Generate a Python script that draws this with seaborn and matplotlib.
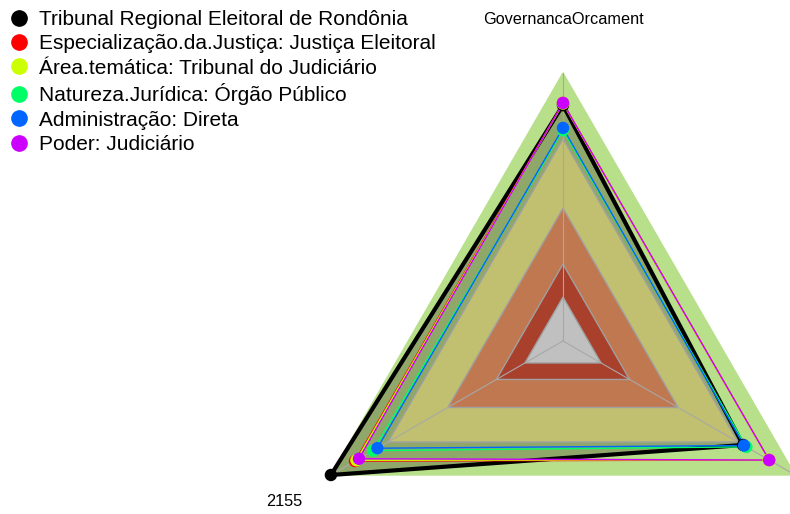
import numpy as np
import pandas as pd
import matplotlib
matplotlib.use("Agg")
import matplotlib.pyplot as plt
import seaborn as sns
from matplotlib.lines import Line2D

# axes of the radar (the third label falls outside the picture)
categories = ["GovernancaOrcament", "2155", "GestaoPessoas"]

series_names = [
    "Tribunal Regional Eleitoral de Rondônia",
    "Especialização.da.Justiça: Justiça Eleitoral",
    "Área.temática: Tribunal do Judiciário",
    "Natureza.Jurídica: Órgão Público",
    "Administração: Direta",
    "Poder: Judiciário",
]
tribunal = [0.88, 1.00, 0.776]
justica_eleitoral = [0.888, 0.896, 0.888]
area_tematica = [0.886, 0.89, 0.886]
natureza = [0.787, 0.818, 0.79]
administracao = [0.795, 0.80, 0.78]
poder = [0.888, 0.879, 0.888]

# background bands (fraction of the max radius)
band_levels = [1.0, 0.754, 0.496, 0.287, 0.164]
band_colors = ["#b8df8a", "#c0c070", "#c07850", "#a8402c", "#c0c0c0"]

colors = ["#000000", "#FF0000", "#CCFF00", "#00FF66", "#0066FF", "#CC00FF"]

sns.set_style("white")
plt.rcParams["font.family"] = ["Liberation Sans", "DejaVu Sans"]
plt.rcParams["text.color"] = "black"

angles = np.array([0, 240, 120]) * np.pi / 180  # top, bottom-left, bottom-right


def to_xy(vals):
    vals = np.asarray(vals)
    return vals * np.sin(angles), vals * np.cos(angles)


fig = plt.figure(figsize=(7.9, 5.14), dpi=100)
ax = fig.add_axes([0, 0, 1, 1])
cx, cy, rad = 563, 341, 268
xlim = (-cx / rad, (790 - cx) / rad)
ylim = (-(514 - cy) / rad, cy / rad)

# outer band, then the filled tribunal polygon, then inner bands
x, y = to_xy([band_levels[0]] * 3)
ax.fill(x, y, color=band_colors[0], zorder=1)
x, y = to_xy(tribunal)
ax.fill(x, y, color="#8fa86a", zorder=2)
for lev, col in zip(band_levels[1:], band_colors[1:]):
    x, y = to_xy([lev] * 3)
    ax.fill(x, y, facecolor=col, edgecolor="#a0a0a0", lw=1, zorder=3)

# spokes
for a in angles:
    ax.plot([0, np.sin(a)], [0, np.cos(a)], color="#a8a8a8", lw=0.8, zorder=4)

# series
all_vals = [tribunal, justica_eleitoral, area_tematica, natureza, administracao, poder]
rows = []
for i, (name, vals, col) in enumerate(zip(series_names, all_vals, colors)):
    x, y = to_xy(vals)
    ax.plot(np.append(x, x[0]), np.append(y, y[0]), color=col,
            lw=3 if i == 0 else 1, zorder=5 + i)
    for xi, yi in zip(x, y):
        rows.append({"x": xi, "y": yi, "serie": name})
pts = pd.DataFrame(rows)
for i, name in enumerate(series_names):
    sns.scatterplot(data=pts[pts["serie"] == name], x="x", y="y", color=colors[i],
                    s=80, edgecolor="none", ax=ax, zorder=12 + i, legend=False)

ax.set_xlim(*xlim)
ax.set_ylim(*ylim)
ax.axis("off")

# axis labels (only those that land inside the picture)
for lab, a in zip(categories, angles):
    lx, ly = 1.2 * np.sin(a), 1.2 * np.cos(a)
    if xlim[0] + 0.15 < lx < xlim[1] - 0.15:
        ax.text(lx, ly, lab, ha="center", va="center", fontsize=11.7,
                color="black", zorder=20)

handles = [Line2D([], [], marker="o", linestyle="none", markersize=11,
                  markerfacecolor=c, markeredgecolor=c) for c in colors]
fig.legend(handles, series_names, loc="upper left", bbox_to_anchor=(0.006, 0.993),
           frameon=False, fontsize=15, handlelength=0.8, handletextpad=0.55,
           labelspacing=0.26, borderpad=0.3, borderaxespad=0.0)

fig.savefig("out.png", dpi=100)
